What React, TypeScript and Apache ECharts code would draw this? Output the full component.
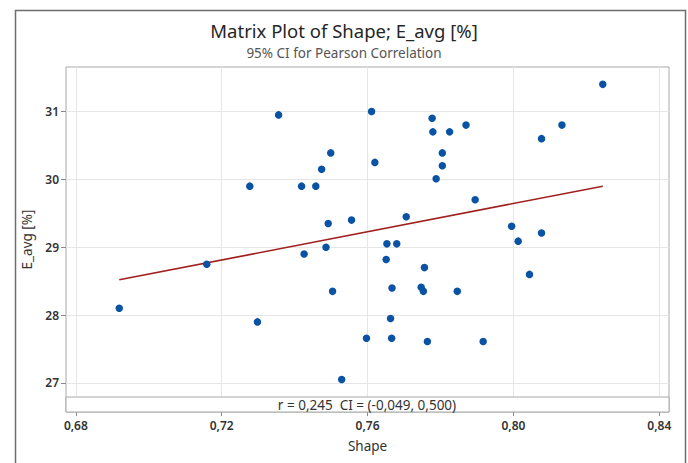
import React, { useEffect, useRef } from "react";
import * as echarts from "echarts";

const shapeValues = [
  0.6919, 0.7159, 0.7298, 0.7277, 0.7356, 0.7419, 0.7458, 0.7474, 0.7499, 0.7426,
  0.7486, 0.7492, 0.7504, 0.7529, 0.7556, 0.7597, 0.7611, 0.762, 0.7651, 0.7653,
  0.7663, 0.7666, 0.7667, 0.768, 0.7706, 0.7747, 0.7753, 0.7756, 0.7764, 0.7777,
  0.7779, 0.7788, 0.7805, 0.7805, 0.7825, 0.7846, 0.787, 0.7895, 0.7917, 0.7995,
  0.8013, 0.8044, 0.8077, 0.8077, 0.8133, 0.8245,
];
const eAvgValues = [
  28.1, 28.75, 27.9, 29.9, 30.95, 29.9, 29.9, 30.15, 30.39, 28.9,
  29.0, 29.35, 28.35, 27.05, 29.4, 27.66, 31.0, 30.25, 28.82, 29.05,
  27.95, 27.66, 28.4, 29.05, 29.45, 28.41, 28.35, 28.7, 27.61, 30.9,
  30.7, 30.01, 30.39, 30.2, 30.7, 28.35, 30.8, 29.7, 27.61, 29.31,
  29.09, 28.6, 30.6, 29.21, 30.8, 31.4,
];
const fitShape = [0.6919, 0.8245];
const fitEAvg = [28.52, 29.9];
const xTicks = [0.68, 0.72, 0.76, 0.8, 0.84];
const yTicks = [27, 28, 29, 30, 31];

const titleText = "Matrix Plot of Shape; E_avg [%]";
const subtitleText = "95% CI for Pearson Correlation";
const corrText = "r = 0,245  CI = (-0,049, 0,500)";

const FONT = "'Noto Sans', 'Open Sans', sans-serif";

export default function App() {
  const ref = useRef<HTMLDivElement>(null);
  useEffect(() => {
    if (!ref.current) return;
    const chart = echarts.init(ref.current, null, { renderer: "svg" });
    const points = shapeValues.map((x, i) => [x, eAvgValues[i]]);
    const fit = fitShape.map((x, i) => [x, fitEAvg[i]]);
    chart.setOption({
      animation: false,
      backgroundColor: "#ffffff",
      textStyle: { fontFamily: FONT },
      title: [
        {
          text: titleText,
          left: "center",
          top: 14,
          textStyle: { fontFamily: FONT, fontSize: 18.5, lineHeight: 22, fontWeight: "normal", color: "#262626" },
        },
        {
          text: subtitleText,
          left: "center",
          top: 40,
          textStyle: { fontFamily: FONT, fontSize: 13.5, lineHeight: 16, fontWeight: "normal", color: "#555555" },
        },
      ],
      grid: {
        left: 66,
        right: 19,
        top: 67,
        bottom: 51,
        show: true,
        borderColor: "#a8a8a8",
        borderWidth: 1,
        backgroundColor: "#ffffff",
      },
      xAxis: {
        type: "value",
        min: 0.6773,
        max: 0.84266,
        name: "Shape",
        nameLocation: "middle",
        nameGap: 27,
        nameTextStyle: { fontFamily: FONT, fontSize: 13.5, color: "#333333" },
        axisLine: { show: false },
        axisTick: { show: true, length: 4, customValues: xTicks, lineStyle: { color: "#888888" } },
        axisLabel: {
          customValues: xTicks,
          margin: 7,
          fontFamily: FONT,
          fontSize: 12,
          fontWeight: 600,
          color: "#333333",
          formatter: (v: number) => v.toFixed(2).replace(".", ","),
        },
        splitLine: { show: true, lineStyle: { color: "#e6e6e6", width: 1 } },
      },
      yAxis: {
        type: "value",
        min: 26.572,
        max: 31.656,
        name: "E_avg [%]",
        nameLocation: "middle",
        nameGap: 26,
        nameRotate: 90,
        nameTextStyle: { fontFamily: FONT, fontSize: 13.5, color: "#333333" },
        axisLine: { show: false },
        axisTick: { show: true, length: 5, customValues: yTicks, lineStyle: { color: "#888888" } },
        axisLabel: {
          customValues: yTicks,
          margin: 7,
          fontFamily: FONT,
          fontSize: 12,
          fontWeight: 600,
          color: "#333333",
          formatter: (v: number) => String(v),
        },
        splitLine: { show: true, lineStyle: { color: "#e6e6e6", width: 1 } },
      },
      series: [
        {
          type: "line",
          data: fit,
          symbol: "none",
          lineStyle: { color: "#a0201e", width: 1.6 },
          z: 2,
        },
        {
          type: "scatter",
          data: points,
          symbol: "circle",
          symbolSize: 7.5,
          itemStyle: { color: "#0a52a4", opacity: 1 },
          z: 3,
        },
      ],
      graphic: [
        {
          type: "rect",
          left: 13,
          top: 8,
          shape: { width: 670, height: 480 },
          style: { fill: "none", stroke: "#6e6e6e", lineWidth: 1.5 },
          z: 10,
        },
        {
          type: "rect",
          shape: { x: 66, y: 397, width: 603, height: 15 },
          style: { fill: "#ffffff", stroke: "#a8a8a8", lineWidth: 1 },
          z: 10,
        },
        {
          type: "text",
          x: 367,
          y: 404.5,
          style: {
            text: corrText,
            fill: "#333333",
            fontFamily: FONT,
            fontSize: 13.5,
            align: "center",
            verticalAlign: "middle",
          },
          z: 11,
        },
      ],
    });
    return () => chart.dispose();
  }, []);
  return (
    <div
      ref={ref}
      style={{ position: "fixed", left: 0, top: 0, width: 688, height: 463 }}
    />
  );
}
